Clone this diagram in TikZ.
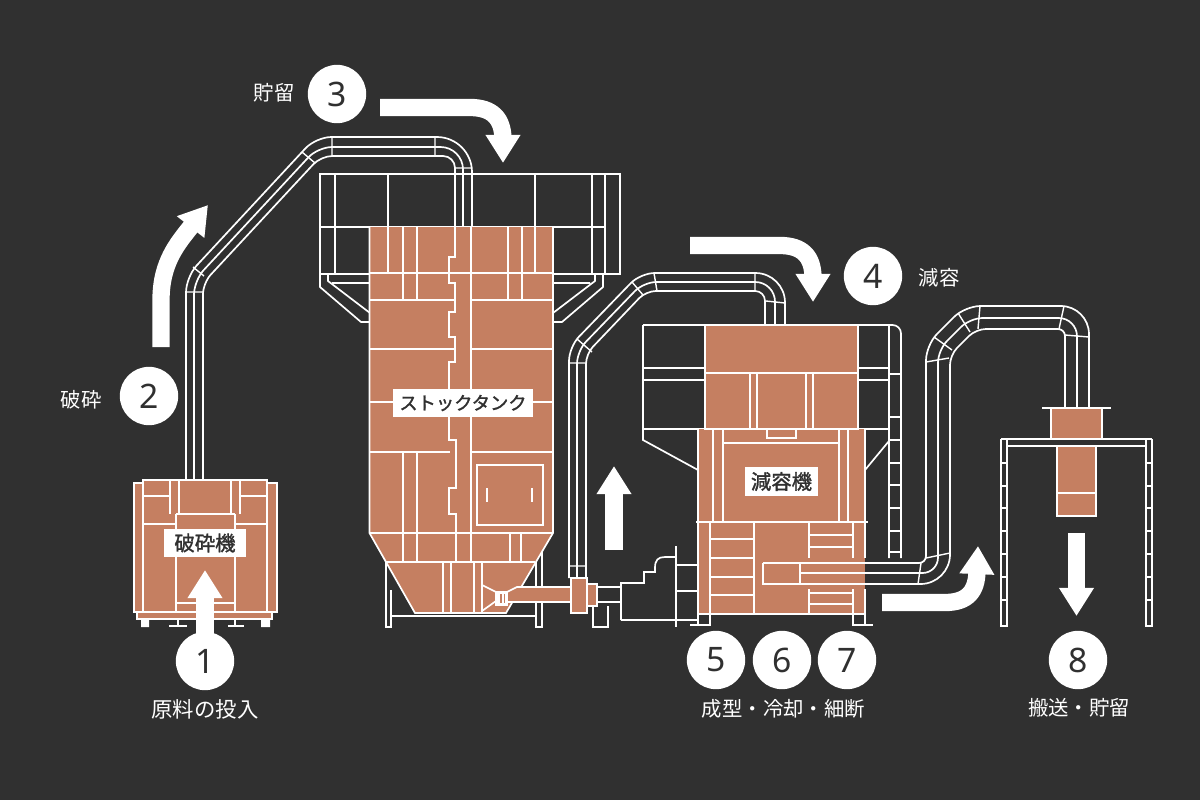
\documentclass[tikz,border=0pt]{standalone}
\usepackage{fontspec,xcolor}
\setmainfont{Noto Sans CJK JP}
\newfontfamily\numfont{Noto Sans}
\newfontfamily\tagfont[FakeBold=1.5]{Noto Sans CJK JP}
\usetikzlibrary{arrows.meta}
\definecolor{bgdark}{HTML}{303030}
\definecolor{clay}{HTML}{C57F61}
\begin{document}
\begin{tikzpicture}[x=.25mm,y=-.25mm,line width=1.2pt,
  wire/.style={white},
  thin wire/.style={white,line width=1pt},
  flow/.style={white,line width=12.3pt,-{Triangle[length=20pt,width=23.5pt]}},
  stepdot/.style={circle,fill=white,minimum size=41.5pt,inner sep=0pt,text=bgdark,font=\numfont\fontsize{24}{28}\selectfont},
  sidelabel/.style={text=white,inner sep=0pt,font=\fontsize{14.5}{16}\selectfont},
  caption/.style={text=white,inner sep=0pt,font=\fontsize{14.5}{17}\selectfont},
  tag/.style={fill=white,text=bgdark,inner sep=0pt,font=\tagfont\fontsize{14.5}{17}\selectfont}]
\fill[bgdark] (0,0) rectangle (1200,800);
\useasboundingbox (0,0) rectangle (1200,800);

\draw[wire,rounded corners=11pt] (186,480)--(186,277)--(316,137)[rounded corners=25pt]--(472,137)--(472,227);
\draw[wire,rounded corners=10pt] (194,480)--(194,280.5)--(318,147)[rounded corners=16pt]--(463,147)--(463,227);
\draw[wire,rounded corners=8pt] (203,480)--(203,283)--(321,156)[rounded corners=8.5pt]--(455,156)--(455,227);
\draw[thin wire] (186,292)--(203,292) (193,267)--(204,276) (302,152)--(315,163) (332,137)--(332,156) (435,137)--(435,156) (455,168)--(472,168);

\draw[wire] (320,174) rectangle (620,274);
\draw[wire] (335,174)--(335,274) (388,174)--(388,228) (535,174)--(535,228) (592,174)--(592,274) (605,174)--(605,274) (320,227)--(605,227);
\draw[wire] (320,274)--(320,287)--(361,322)--(370,322) (328,274)--(328,281)--(370,313) (332,283)--(370,283);
\draw[wire] (603,274)--(603,287)--(562,322)--(553,322) (595,274)--(595,281)--(553,313) (553,283)--(590,283);

\draw[wire] (386,562)--(386,627)--(391,627)--(391,590) (391,616)--(536,616) (536,562)--(536,627)--(542,627)--(542,550);
\fill[clay] (369.5,227)--(553,227)--(553,533)--(506,613)--(415,613)--(369.5,533)--cycle;
\draw[wire] (369.5,227)--(369.5,533)--(415,613)--(506,613)--(553,533)--(553,227);
\draw[wire] (388,227)--(388,273) (403,227)--(403,300) (417,227)--(417,300) (508,227)--(508,300) (522,227)--(522,300) (535,227)--(535,273);
\draw[wire] (369,273)--(553,273) (369,300)--(454,300) (471,300)--(553,300) (369,349)--(454,349) (471,349)--(553,349) (369,402)--(450,402) (471,402)--(553,402) (369,452)--(450,452) (471,452)--(553,452) (369,533)--(553,533) (386,562)--(535,562);
\draw[wire] (455,227)--(455,257)--(449,257)--(449,283)--(455,283)--(455,312)--(449,312)--(449,337)--(455,337)--(455,362)--(449,362)--(449,440)--(456,440)--(456,488)--(449,488)--(449,514)--(456,514)--(456,562);
\draw[wire] (471,227)--(471,562);
\draw[wire] (403,452)--(403,562) (417,452)--(417,562) (510,533)--(510,562) (521,533)--(521,562);
\draw[wire] (477,465) rectangle (543,525);
\draw[wire] (487,488)--(487,502) (532,488)--(532,502);
\draw[wire] (443,562)--(443,613) (451,562)--(451,613) (474,562)--(474,613) (482,562)--(482,613);
\draw[wire] (482,585)--(496,592) (482,611)--(496,601);

\draw[wire,rounded corners=10pt] (569,578)--(569,347)--(640.6,273)[rounded corners=21pt]--(785,273)--(785,326);
\draw[wire,rounded corners=9pt] (577,578)--(577,351)--(643.7,282)[rounded corners=14pt]--(775,282)--(775,326);
\draw[wire,rounded corners=7pt] (586,578)--(586,354)--(646,291)[rounded corners=7pt]--(765,291)--(765,326);
\draw[thin wire] (569,566)--(586,566) (569,363)--(586,363) (577,339)--(592,352) (632,282)--(643,295) (654,273)--(657,291) (755,273)--(755,291) (766,301)--(785,303);

\fill[clay] (517,587)--(573,587)--(573,602)--(507,602)--(507,592)--cycle;
\draw[wire] (507,592)--(517,587)--(573,587) (507,602)--(573,602);
\draw[wire,fill=white] (496,592) rectangle (507,605);
\fill[clay] (498,594) rectangle (505,603);
\draw[thin wire] (499,592)--(499,605) (503,592)--(503,605);
\draw[wire,fill=clay] (587,584) rectangle (597,606);
\draw[wire,fill=clay] (571,578) rectangle (587,613);
\draw[wire] (597,587)--(621,587) (597,602)--(621,602);
\draw[wire] (593,606)--(593,627)--(608,627)--(608,606);
\draw[wire] (621,620)--(621,583)--(644,583)--(644,572)--(655,572)--(655,568) .. controls (655,560) and (658,557) .. (665,557)--(675,557);
\draw[wire] (676,546)--(676,627) (676,565)--(698,565) (676,591)--(698,591) (621,620)--(698,620) (690,625)--(710,625);

\draw[wire] (643,325)--(889,325)--(889,558) (643,325)--(643,440)--(698,470) (889,441)--(865,470);
\draw[wire] (643,429)--(889,429) (643,368)--(705,368) (643,380)--(705,380) (858,368)--(889,368) (858,380)--(889,380);
\draw[wire,rounded corners=6pt] (885,325)--(901,325)--(901,558);
\draw[wire] (889,374)--(901,374) (889,417)--(901,417) (889,440)--(901,440) (889,463)--(901,463) (889,485)--(901,485) (889,508)--(901,508) (889,531)--(901,531) (889,552)--(901,552);

\fill[clay] (705,325) rectangle (858,429);
\fill[clay] (698,429) rectangle (865,614);
\draw[wire] (705,325) rectangle (858,429);
\draw[wire] (705,373)--(858,373) (750,373)--(750,429) (757,373)--(757,429) (806,373)--(806,429) (813,373)--(813,429);
\draw[wire] (698,429)--(698,625) (865,429)--(865,558) (865,589)--(865,625) (696,522)--(868,522) (698,614)--(865,614);
\draw[wire] (713,429)--(713,522) (723,429)--(723,522) (839,429)--(839,522) (848,429)--(848,522) (723,443)--(839,443);
\draw[wire] (767,429)--(767,438)--(796,438)--(796,429);
\draw[wire] (710,522)--(710,625)--(698,625) (754,522)--(754,614) (710,539)--(754,539) (710,558)--(754,558) (710,577)--(754,577) (710,595)--(754,595);
\draw[wire] (809,522)--(809,558) (853,522)--(853,558) (809,535)--(853,535) (809,547)--(853,547);
\draw[wire] (809,589)--(809,614) (853,589)--(853,625)--(865,625) (809,593)--(853,593) (809,604)--(853,604) (853,625)--(873,625);

\draw[wire,rounded corners=5pt] (763,563)--(926,563)[rounded corners=11pt]--(926,345)--(965,306)[rounded corners=20pt]--(1089,306)--(1089,408);
\draw[wire] (763,563)--(763,584)--(800,584)--(800,563);
\draw[wire,rounded corners=11pt] (800,573)--(938,573)[rounded corners=9pt]--(938,350)--(970,318)[rounded corners=13pt]--(1077,318)--(1077,408);
\draw[wire,rounded corners=21pt] (800,584)--(950,584)[rounded corners=7pt]--(950,355)--(976,329)[rounded corners=5pt]--(1065,329)--(1065,408);
\draw[thin wire] (918,584)--(921,563) (926,558)--(950,553) (926,362)--(949,358) (934,337)--(952,350) (958,313)--(970,332) (980,306)--(978,329) (1064,306)--(1059,329) (1065,335)--(1089,337);

\draw[wire,fill=clay] (1051,408) rectangle (1102,439);
\draw[wire] (1042,408)--(1111,408);
\draw[wire,fill=clay] (1057,446) rectangle (1096,516);
\draw[wire] (1057,493)--(1096,493);
\draw[wire] (1001,439)--(1152,439) (1007,446)--(1146,446);
\draw[wire] (1001,439)--(1001,626)--(1007,626)--(1007,439) (1146,439)--(1146,626)--(1152,626)--(1152,439);
\draw[thin wire] (1001,463)--(1007,463) (1001,486)--(1007,486) (1001,508)--(1007,508) (1001,531)--(1007,531) (1001,554)--(1007,554) (1001,577)--(1007,577) (1001,600)--(1007,600);
\draw[thin wire] (1146,463)--(1152,463) (1146,486)--(1152,486) (1146,508)--(1152,508) (1146,531)--(1152,531) (1146,554)--(1152,554) (1146,577)--(1152,577) (1146,600)--(1152,600);

\fill[clay] (137,612) rectangle (272,619);
\draw[thin wire] (137,612)--(137,619)--(272,619)--(272,612);
\fill[white] (141,619) rectangle (149,627) (261,619) rectangle (270,627);
\draw[wire] (178,619)--(178,626) (169,626)--(187,626) (235,619)--(235,626) (228,626)--(244,626);
\draw[wire,fill=clay] (134,483) rectangle (277,612);
\draw[wire,fill=clay] (143,480) rectangle (267,612);
\draw[wire] (170,480)--(170,514) (179,480)--(179,514) (231,480)--(231,514) (240,480)--(240,514);
\draw[wire] (144,496)--(170,496) (144,524)--(176,524) (240,496)--(266,496) (235,524)--(266,524);
\draw[wire] (176,514)--(235,514) (176,514)--(176,612) (235,514)--(235,612) (176,603)--(235,603);

\node[tag,minimum width=58pt,minimum height=20pt] (crushertag) at (205,543) {破砕機};
\node[tag,minimum width=99.5pt,minimum height=20.5pt,font=\tagfont\fontsize{13}{16}\selectfont] (tanktag) at (463,403) {ストックタンク};
\node[tag,minimum width=52pt,minimum height=20.5pt] (reducertag) at (781.5,481.5) {減容機};

\draw[flow] (205,640)--(205,570);
\draw[flow] (161,347)--(161,300) .. controls (161,262) and (178,243) .. (208,205);
\draw[flow] (380,107.5)--(470,107.5) .. controls (492,107.5) and (503,118) .. (503,140)--(503,163);
\draw[flow] (690,245.5)--(780,245.5) .. controls (802,245.5) and (813,256) .. (813,278)--(813,302);
\draw[flow] (614,550)--(614,466);
\draw[flow] (882,602.5)--(945,602.5) .. controls (967,602.5) and (977,592) .. (977,570)--(978,546);
\draw[flow] (1076.5,533)--(1076.5,616);

\node[stepdot] (stepone) at (205,661) {1};
\node[stepdot] (steptwo) at (149,396) {2};
\node[stepdot] (stepthree) at (337,94) {3};
\node[stepdot] (stepfour) at (873,276) {4};
\node[stepdot] (stepfive) at (716,660) {5};
\node[stepdot] (stepsix) at (782,660) {6};
\node[stepdot] (stepseven) at (847,660) {7};
\node[stepdot] (stepeight) at (1078,660) {8};

\node[caption,font=\fontsize{15.2}{17}\selectfont] (capone) at (205,709) {原料の投入};
\node[sidelabel] (captwo) at (81,400) {破砕};
\node[sidelabel] (capthree) at (274,93) {貯留};
\node[sidelabel] (capfour) at (939,278) {減容};
\node[caption] (capfive) at (783.5,709) {成型・冷却・細断};
\node[caption] (capeight) at (1079,708) {搬送・貯留};
\end{tikzpicture}
\end{document}
